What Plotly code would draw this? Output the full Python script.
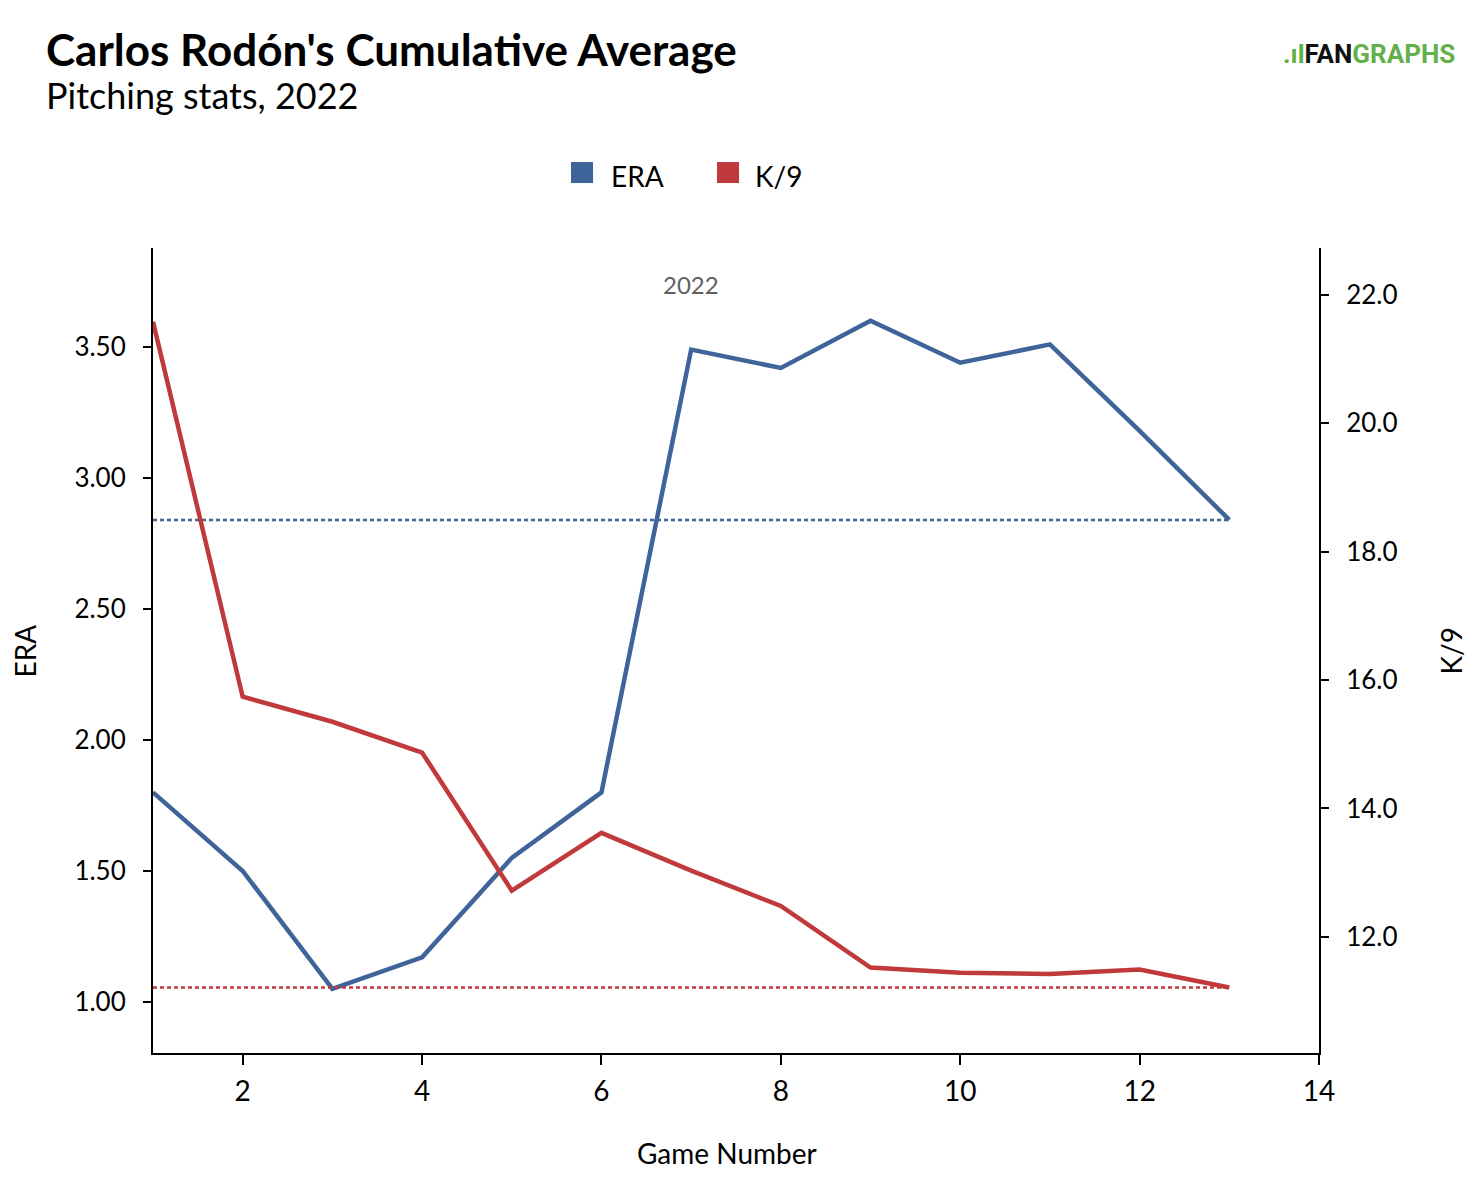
import plotly.graph_objects as go

games = list(range(1, 14))
era = [1.80, 1.50, 1.05, 1.17, 1.55, 1.80, 3.49, 3.42, 3.60, 3.44, 3.51, 3.18, 2.84]
k9 = [21.58, 15.74, 15.35, 14.87, 12.72, 13.62, 13.03, 12.48, 11.52, 11.44, 11.42, 11.49, 11.21]
era_avg = 2.84
k9_avg = 11.21
era_ticks = [1.00, 1.50, 2.00, 2.50, 3.00, 3.50]
k9_ticks = [12.0, 14.0, 16.0, 18.0, 20.0, 22.0]
x_ticks = [2, 4, 6, 8, 10, 12, 14]
season_label = "2022"
legend_names = ["ERA", "K/9"]

BLUE = "#3f6499"
RED = "#c0393b"
GREEN = "#62b04a"
FONT = "Lato"

fig = go.Figure()

fig.add_trace(go.Scatter(x=games, y=[era_avg] * len(games), mode="lines",
                         line=dict(color=BLUE, width=2.5, dash="4px,3px"),
                         showlegend=False, hoverinfo="skip", yaxis="y"))
fig.add_trace(go.Scatter(x=games, y=[k9_avg] * len(games), mode="lines",
                         line=dict(color=RED, width=2.5, dash="4px,3px"),
                         showlegend=False, hoverinfo="skip", yaxis="y2"))
fig.add_trace(go.Scatter(x=games, y=era, mode="lines", name=legend_names[0],
                         line=dict(color=BLUE, width=4.5), showlegend=False, yaxis="y"))
fig.add_trace(go.Scatter(x=games, y=k9, mode="lines", name=legend_names[1],
                         line=dict(color=RED, width=4.5), showlegend=False, yaxis="y2"))

def axis_common(size, standoff, ticklen):
    return dict(showgrid=False, zeroline=False, showline=True, linecolor="black",
                linewidth=2, ticks="outside", ticklen=ticklen, tickcolor="black",
                tickwidth=1.5, ticklabelstandoff=standoff,
                tickfont=dict(family=FONT, size=size, color="black"))

fig.update_layout(
    width=1470, height=1176,
    paper_bgcolor="white", plot_bgcolor="white",
    margin=dict(l=145, r=159, t=240, b=131),
    font=dict(family=FONT, color="black"),
    xaxis=dict(range=[1, 14], tickvals=x_ticks, **axis_common(28, 2, 10)),
    yaxis=dict(range=[0.805, 3.878], tickvals=era_ticks, tickformat=".2f",
               **axis_common(26, 12, 8)),
    yaxis2=dict(range=[10.19, 22.73], tickvals=k9_ticks, tickformat=".1f",
                overlaying="y", side="right", **axis_common(26, 12, 8)),
    showlegend=False,
)

# manual legend with square swatches
sq = [(0.3585, 0.3774), (0.4837, 0.5026)]
colors = [BLUE, RED]
shapes = []
for (x0, x1), c in zip(sq, colors):
    shapes.append(dict(type="rect", xref="paper", yref="paper", x0=x0, x1=x1,
                       y0=1.0807, y1=1.1068, fillcolor=c, line=dict(width=0)))
fig.update_layout(shapes=shapes)

annotations = [
    dict(text="<b>Carlos Rodón's Cumulative Average</b>", xref="paper", yref="paper",
         x=-0.0935, y=1.0, xanchor="left", yanchor="middle", yshift=199,
         showarrow=False, font=dict(family=FONT, size=44, color="black")),
    dict(text="Pitching stats, 2022", xref="paper", yref="paper",
         x=-0.0935, y=1.0, xanchor="left", yanchor="middle", yshift=153,
         showarrow=False, font=dict(family=FONT, size=36, color="black")),
    dict(text=season_label, xref="x", yref="paper", x=7, y=0.955,
         xanchor="center", yanchor="middle",
         showarrow=False, font=dict(family=FONT, size=24, color="#5f5f5f")),
    dict(text="ERA", xref="paper", yref="paper", x=-0.1098, y=0.5, textangle=-90,
         xanchor="center", yanchor="middle",
         showarrow=False, font=dict(family=FONT, size=28, color="black")),
    dict(text="K/9", xref="paper", yref="paper", x=1.1132, y=0.5, textangle=-90,
         xanchor="center", yanchor="middle",
         showarrow=False, font=dict(family=FONT, size=28, color="black")),
    dict(text="Game Number", xref="paper", yref="paper", x=0.4919, y=-0.124,
         xanchor="center", yanchor="middle",
         showarrow=False, font=dict(family=FONT, size=28, color="black")),
    dict(text=legend_names[0], xref="paper", yref="paper", x=0.3911, y=1.0894,
         xanchor="left", yanchor="middle",
         showarrow=False, font=dict(family=FONT, size=28, color="black")),
    dict(text=legend_names[1], xref="paper", yref="paper", x=0.5146, y=1.0894,
         xanchor="left", yanchor="middle",
         showarrow=False, font=dict(family=FONT, size=28, color="black")),
    dict(text=f"<span style='color:{GREEN}'>.ıl</span><span style='color:#111'>FAN</span>"
              f"<span style='color:{GREEN}'>GRAPHS</span>",
         xref="paper", yref="paper", x=1.118, y=1.0, xanchor="right", yanchor="middle",
         yshift=194, showarrow=False,
         font=dict(family="Roboto", size=26, color="black", weight="bold")),
]
fig.update_layout(annotations=annotations)

fig.write_html("out.html")
